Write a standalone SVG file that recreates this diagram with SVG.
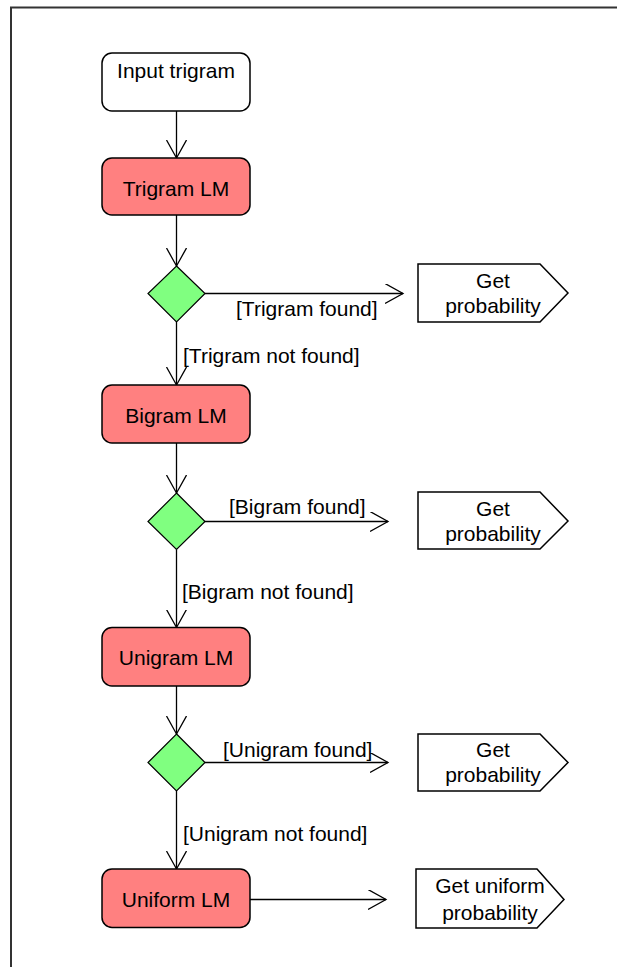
<svg xmlns="http://www.w3.org/2000/svg" width="617" height="967" viewBox="0 0 617 967">
<style>
text{font-family:"Liberation Sans",Arial,sans-serif;font-size:21px;fill:#000}
.c{text-anchor:middle}
.act{fill:#FF8080;stroke:#000;stroke-width:1.5}
.start{fill:#fff;stroke:#000;stroke-width:1.5}
.dec{fill:#80FF80;stroke:#000;stroke-width:1.2}
.sig{fill:#fff;stroke:#000;stroke-width:1.5}
.ln{fill:none;stroke:#000;stroke-width:1.3}
</style>
<defs>
<marker id="ah" markerUnits="userSpaceOnUse" markerWidth="24" markerHeight="24" refX="18" refY="10" orient="auto">
<path d="M0,0 L18,10 L0,20" fill="none" stroke="#000" stroke-width="1.3"/>
</marker>
</defs>
<rect x="11" y="7.5" width="640" height="1000" fill="#fff" stroke="#333" stroke-width="2"/>
<g id="connectors">
<line class="ln" x1="176.5" y1="111" x2="176.5" y2="158" marker-end="url(#ah)"/>
<line class="ln" x1="176.5" y1="215" x2="176.5" y2="266" marker-end="url(#ah)"/>
<line class="ln" x1="205" y1="293.5" x2="403" y2="293.5" marker-end="url(#ah)"/>
<text x="236" y="316">[Trigram found]</text>
<line class="ln" x1="176.5" y1="322" x2="176.5" y2="385" marker-end="url(#ah)"/>
<text x="183" y="363">[Trigram not found]</text>
<line class="ln" x1="176.5" y1="443" x2="176.5" y2="493" marker-end="url(#ah)"/>
<line class="ln" x1="205" y1="521.5" x2="388" y2="521.5" marker-end="url(#ah)"/>
<text x="229" y="514">[Bigram found]</text>
<line class="ln" x1="176.5" y1="549.5" x2="176.5" y2="627.5" marker-end="url(#ah)"/>
<text x="182" y="599">[Bigram not found]</text>
<line class="ln" x1="176.5" y1="686" x2="176.5" y2="734" marker-end="url(#ah)"/>
<line class="ln" x1="205" y1="762.5" x2="388" y2="762.5" marker-end="url(#ah)"/>
<text x="223" y="757">[Unigram found]</text>
<line class="ln" x1="176.5" y1="791" x2="176.5" y2="869" marker-end="url(#ah)"/>
<text x="183" y="841">[Unigram not found]</text>
<line class="ln" x1="250" y1="899.5" x2="386" y2="899.5" marker-end="url(#ah)"/>
</g>
<g id="input">
<rect class="start" x="102" y="53" width="148" height="58" rx="10"/>
<text class="c" x="176" y="78">Input trigram</text>
</g>
<g id="trigramLM">
<rect class="act" x="102" y="158" width="148" height="57" rx="10"/>
<text class="c" x="176" y="196">Trigram LM</text>
</g>
<g id="dec1">
<polygon class="dec" points="176.5,266 205,293.5 176.5,322 148,293.5"/>
</g>
<g id="prob1">
<polygon class="sig" points="418,264 540,264 568,293 540,322 418,322"/>
<text class="c" x="493" y="288">Get</text>
<text class="c" x="493" y="313">probability</text>
</g>
<g id="bigramLM">
<rect class="act" x="102" y="385" width="148" height="58" rx="10"/>
<text class="c" x="176" y="423">Bigram LM</text>
</g>
<g id="dec2">
<polygon class="dec" points="176.5,493 205,521.5 176.5,549.5 148,521.5"/>
</g>
<g id="prob2">
<polygon class="sig" points="418,492 540,492 568,521 540,549 418,549"/>
<text class="c" x="493" y="516">Get</text>
<text class="c" x="493" y="541">probability</text>
</g>
<g id="unigramLM">
<rect class="act" x="102" y="627.5" width="148" height="58.5" rx="10"/>
<text class="c" x="176" y="665">Unigram LM</text>
</g>
<g id="dec3">
<polygon class="dec" points="176.5,734 205,762.5 176.5,791 148,762.5"/>
</g>
<g id="prob3">
<polygon class="sig" points="418,734 540,734 568,762.5 540,791 418,791"/>
<text class="c" x="493" y="757">Get</text>
<text class="c" x="493" y="782">probability</text>
</g>
<g id="uniformLM">
<rect class="act" x="102" y="869" width="148" height="58.5" rx="10"/>
<text class="c" x="176" y="907">Uniform LM</text>
</g>
<g id="prob4">
<polygon class="sig" points="416,869 537,869 564,899.5 537,928 416,928"/>
<text class="c" x="490" y="893">Get uniform</text>
<text class="c" x="490" y="920">probability</text>
</g>
</svg>
